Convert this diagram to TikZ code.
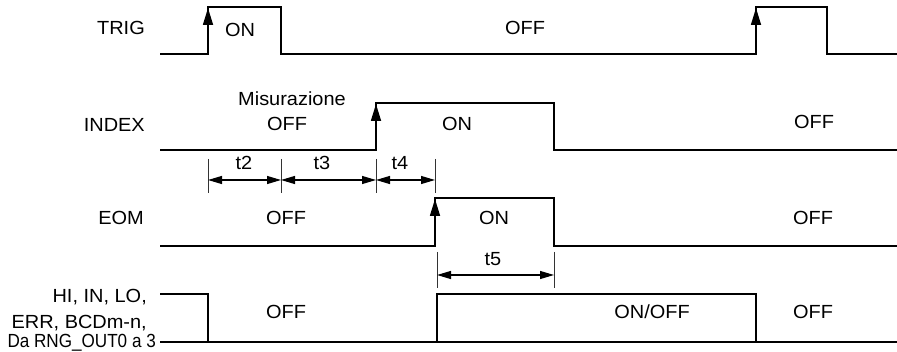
\documentclass[tikz,border=0pt]{standalone}
\usepackage{fontspec}
\setmainfont[FakeStretch=1.05]{Liberation Sans}
\newfontfamily\condfont[FakeStretch=0.9]{Liberation Sans}
\usetikzlibrary{arrows.meta}
\begin{document}
\begin{tikzpicture}[x=1pt,y=-1pt,
  sig/.style={line width=1.6pt, line join=miter, line cap=butt},
  risetip/.style={-{Triangle[length=17pt,width=10pt]}, line width=1.6pt},
  dimln/.style={{Triangle[length=14pt,width=8pt]}-{Triangle[length=14pt,width=8pt]}, line width=1.1pt},
  extln/.style={line width=1pt, draw=black!80},
  lbl/.style={font=\fontsize{19}{21}\selectfont, inner sep=0pt},
  txt/.style={lbl, anchor=base},
  signame/.style={lbl, anchor=base east},
]
\useasboundingbox (0,0) rectangle (897,352);

% signal names
\node[signame] (ltrig) at (145,35) {TRIG};
\node[signame] (lindex) at (145,131.5) {INDEX};
\node[signame] (leom) at (144,224.5) {EOM};
\node[signame] (lhi1) at (147,303) {HI, IN, LO,};
\node[signame] (lhi2) at (147,329) {ERR, BCDm-n,};
\node[signame, font=\condfont\fontsize{19}{21}\selectfont] (lhi3) at (156,348) {Da RNG\_OUT0 a 3};

% TRIG
\draw[sig] (160,54) -- (208,54) -- (208,7) -- (281,7) -- (281,54) -- (756,54) -- (756,7) -- (827,7) -- (827,54) -- (897,54);
\draw[risetip] (208,27) -- (208,8);
\draw[risetip] (756,27) -- (756,8);
\node[txt] (trigon) at (240,37) {ON};
\node[txt] (trigoff) at (525,35) {OFF};

% INDEX
\draw[sig] (160,150) -- (376,150) -- (376,103) -- (554,103) -- (554,150) -- (897,150);
\draw[risetip] (376,122) -- (376,104);
\node[txt] (mis) at (292,106) {Misurazione};
\node[txt] (idxoff1) at (287,131) {OFF};
\node[txt] (idxon) at (457,131) {ON};
\node[txt] (idxoff2) at (814,129) {OFF};

% t2 t3 t4
\draw[extln] (208,159) -- (208,193);
\draw[extln] (281,159) -- (281,193);
\draw[extln] (376,159) -- (376,193);
\draw[extln] (435,159) -- (435,193);
\draw[dimln] (208,180) -- (281,180);
\draw[dimln] (281,180) -- (376,180);
\draw[dimln] (376,180) -- (435,180);
\node[txt] (t2) at (244,169.5) {t2};
\node[txt] (t3) at (322,169.5) {t3};
\node[txt] (t4) at (400,169.5) {t4};

% EOM
\draw[sig] (160,246) -- (435,246) -- (435,198) -- (554,198) -- (554,246) -- (897,246);
\draw[risetip] (435,217) -- (435,199);
\node[txt] (eomoff1) at (286,225) {OFF};
\node[txt] (eomon) at (494,225) {ON};
\node[txt] (eomoff2) at (813,225) {OFF};

% t5
\draw[extln] (437,252) -- (437,288);
\draw[extln] (554,252) -- (554,288);
\draw[dimln] (437,275) -- (554,275);
\node[txt] (t5) at (493,266) {t5};

% HI, IN, LO ...
\draw[sig] (160,294) -- (208,294) -- (208,342);
\draw[sig] (160,342) -- (897,342);
\draw[sig] (437,342) -- (437,294) -- (756,294) -- (756,342);
\node[txt] (hioff1) at (286,319) {OFF};
\node[txt] (hionoff) at (652,319) {ON/OFF};
\node[txt] (hioff2) at (813,319) {OFF};
\end{tikzpicture}
\end{document}
